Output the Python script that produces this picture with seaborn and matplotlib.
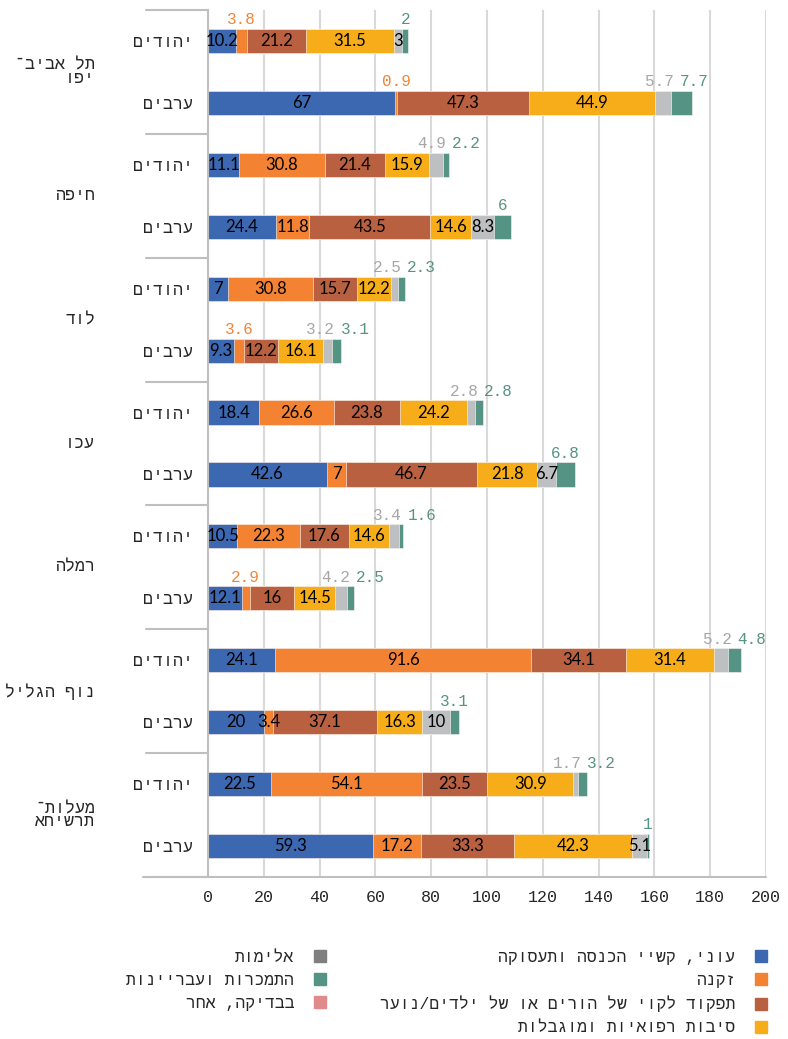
import numpy as np
import pandas as pd
import matplotlib
matplotlib.use('Agg')
import matplotlib.pyplot as plt
import seaborn as sns
from matplotlib.lines import Line2D
from matplotlib.transforms import blended_transform_factory

# ---- data ----
cities = ['תל אביב־יפו', 'חיפה', 'לוד', 'עכו', 'רמלה', 'נוף הגליל', 'מעלות־תרשיחא']
groups = ['יהודים', 'ערבים']
series_names = ['עוני, קשיי הכנסה ותעסוקה', 'זקנה', 'תפקוד לקוי של הורים או של ילדים/נוער',
                'סיבות רפואיות ומוגבלות', 'אלימות', 'התמכרות ועבריינות', 'בבדיקה, אחר']

# order of rows: city by city, יהודים then ערבים
poverty = [10.2, 67, 11.1, 24.4, 7, 9.3, 18.4, 42.6, 10.5, 12.1, 24.1, 20, 22.5, 59.3]
old_age = [3.8, 0.9, 30.8, 11.8, 30.8, 3.6, 26.6, 7, 22.3, 2.9, 91.6, 3.4, 54.1, 17.2]
dysfunction = [21.2, 47.3, 21.4, 43.5, 15.7, 12.2, 23.8, 46.7, 17.6, 16, 34.1, 37.1, 23.5, 33.3]
medical = [31.5, 44.9, 15.9, 14.6, 12.2, 16.1, 24.2, 21.8, 14.6, 14.5, 31.4, 16.3, 30.9, 42.3]
violence = [3, 5.7, 4.9, 8.3, 2.5, 3.2, 2.8, 6.7, 3.4, 4.2, 5.2, 10, 1.7, 5.1]
addiction = [2, 7.7, 2.2, 6, 2.3, 3.1, 2.8, 6.8, 1.6, 2.5, 4.8, 3.1, 3.2, 1]
other = [0, 0, 0, 0, 0, 0, 0, 0, 0, 0, 0, 0, 0, 0]

bar_colors = ['#3C67B1', '#F38332', '#B8603F', '#F7AD1A', '#BEBFC1', '#559384', '#E08A8A']
legend_colors = ['#3C67B1', '#F38332', '#B8603F', '#F7AD1A', '#7F7F7F', '#559384', '#E08A8A']
label_colors = ['black', '#F38332', 'black', 'black', '#A6A6A6', '#559384', 'black']

# labels drawn above the bar: (row, series)
outside = {(0, 1), (0, 5), (1, 1), (1, 4), (1, 5), (2, 4), (2, 5), (3, 5),
           (4, 4), (4, 5), (5, 1), (5, 4), (5, 5), (6, 4), (6, 5), (7, 5),
           (8, 4), (8, 5), (9, 1), (9, 4), (9, 5), (10, 4), (10, 5), (11, 5),
           (12, 4), (12, 5), (13, 5)}


def rtl(s):
    # matplotlib draws left to right, so hebrew goes in visual order
    return '\n'.join(line[::-1] for line in s.split('\n'))


heb_font = ['Liberation Mono', 'DejaVu Sans']
num_font = ['Lato', 'DejaVu Sans']
mono_font = ['Liberation Mono', 'DejaVu Sans Mono']

values = np.array([poverty, old_age, dysfunction, medical, violence, addiction, other])
cum = values.cumsum(axis=0)
rows = [f'{c}|{g}' for c in cities for g in groups]

records = []
for j, name in enumerate(series_names):
    for i, r in enumerate(rows):
        records.append({'row': r, 'series': name, 'value': values[j, i], 'end': cum[j, i]})
df = pd.DataFrame(records)

sns.set_style('white')
plt.rcParams['font.family'] = heb_font

fig = plt.figure(figsize=(7.88, 10.39), dpi=100)
ax = fig.add_axes([208 / 788, 1 - 877 / 1039, 558 / 788, 867 / 1039])

# stacked bars: draw cumulative ends from the last series to the first
for j in range(len(series_names) - 1, -1, -1):
    sub = df[df['series'] == series_names[j]]
    sns.barplot(data=sub, x='end', y='row', order=rows, orient='h', color=bar_colors[j],
                saturation=1, width=0.39, edgecolor='white', linewidth=0.4, ax=ax)

# data labels
lab_kw = dict(va='center', fontsize=11.5, family=mono_font)
for i in range(len(rows)):
    for j in range(len(series_names)):
        v = values[j, i]
        if v == 0:
            continue
        txt = f'{v:g}'
        center = cum[j, i] - v / 2
        if (i, j) in outside:
            if j == 4 and (i, 5) in outside:
                ax.text(cum[4, i] + 1.2, i - 0.34, txt, ha='right', color=label_colors[j], **lab_kw)
            elif j == 5 and (i, 4) in outside:
                ax.text(cum[4, i] + 3.2, i - 0.34, txt, ha='left', color=label_colors[j], **lab_kw)
            else:
                ax.text(center, i - 0.34, txt, ha='center', color=label_colors[j], **lab_kw)
        else:
            ax.text(center, i, txt, ha='center', va='center', color='black',
                    fontsize=12, family=num_font)

ax.set_xlim(0, 200)
ax.set_ylim(13.5, -0.5)
ax.set_xticks(range(0, 201, 20))
ax.set_xticklabels([str(t) for t in range(0, 201, 20)], family=mono_font, fontsize=12, color='#262626')
ax.set_yticks(range(len(rows)))
ax.set_yticklabels([rtl(g) for c in cities for g in groups], fontsize=12, color='#262626')
ax.tick_params(axis='x', length=0, pad=9)
ax.tick_params(axis='y', length=0, pad=11)
ax.set_xlabel('')
ax.set_ylabel('')
ax.grid(axis='x', color='#D9D9D9', linewidth=1.5)
ax.grid(axis='y', visible=False)
ax.set_axisbelow(True)
for s in ['top', 'right', 'bottom']:
    ax.spines[s].set_visible(False)
ax.spines['left'].set_color('#BFBFBF')
ax.spines['left'].set_linewidth(1.5)

# city labels and group separators
trans = blended_transform_factory(fig.transFigure, ax.transData)
for k, c in enumerate(cities):
    name = c.replace('־', '־\n') if k in (0, 6) else c
    ax.text(95 / 788, 2 * k + 0.5, rtl(name), transform=trans, ha='right', va='center',
            fontsize=12, color='#262626', multialignment='right', linespacing=0.85)
for k in range(len(cities) + 1):
    y = 2 * k - 0.5
    fig.add_artist(Line2D([146 / 788, 208 / 788], [y, y], transform=trans,
                          color='#BFBFBF', linewidth=1.5, clip_on=False))
fig.add_artist(Line2D([143 / 788, 766 / 788], [1 - 877 / 1039, 1 - 877 / 1039],
                      transform=fig.transFigure, color='#BFBFBF', linewidth=1.5))

# legend in two right-to-left columns
handles = [Line2D([], [], marker='s', linestyle='', markersize=9,
                  markerfacecolor=c, markeredgecolor=c) for c in legend_colors]
labels = [rtl(n) for n in series_names]
leg_kw = dict(loc='upper right', frameon=False, markerfirst=False, fontsize=11.8,
              handlelength=0.8, handletextpad=1.2, labelspacing=0.48, borderpad=0,
              borderaxespad=0, labelcolor='#262626')
fig.legend(handles[:4], labels[:4], bbox_to_anchor=(768 / 788, 1 - 950 / 1039), **leg_kw)
fig.legend(handles[4:], labels[4:], bbox_to_anchor=(327 / 788, 1 - 950 / 1039), **leg_kw)

plt.savefig('out.png', dpi=100)
plt.close()
